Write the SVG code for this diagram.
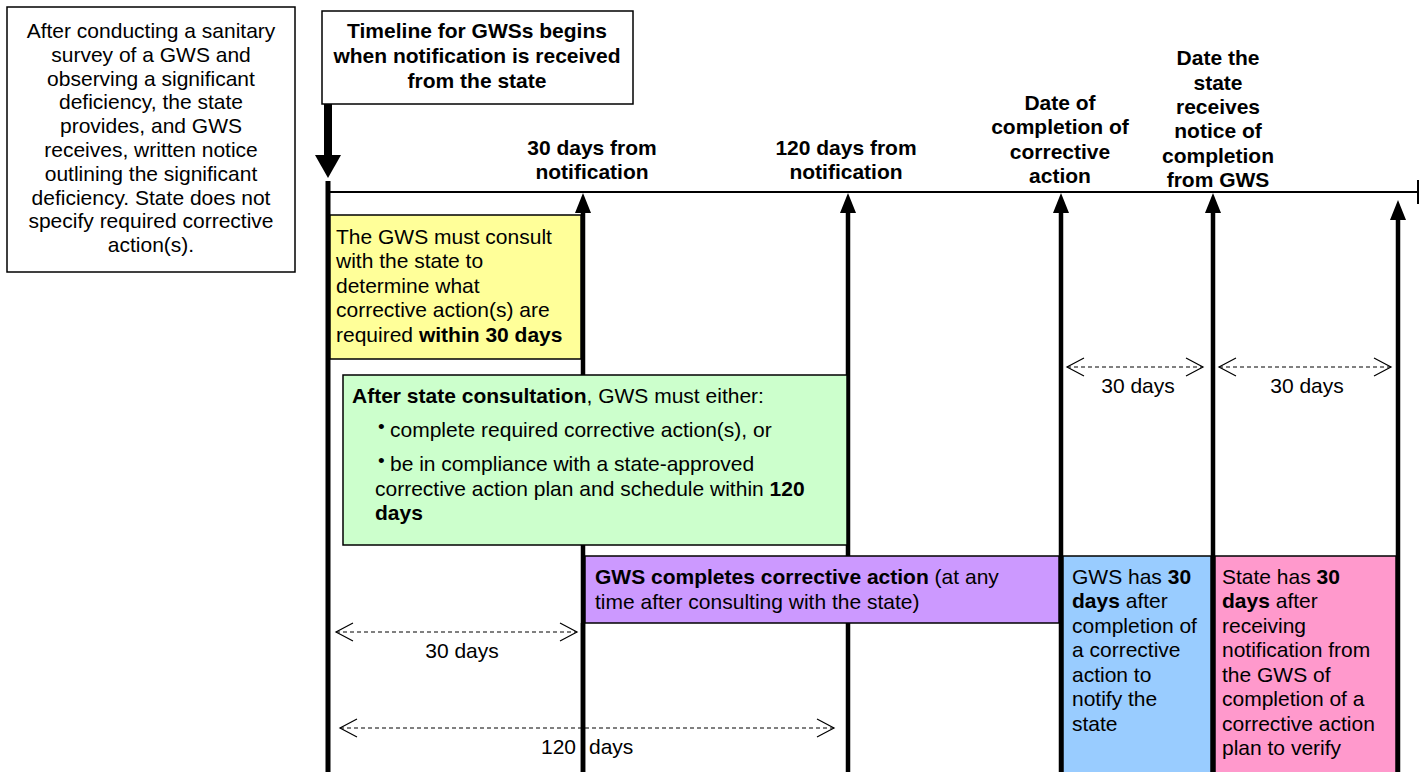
<svg xmlns="http://www.w3.org/2000/svg" width="1424" height="772" viewBox="0 0 1424 772">
<defs>
<style>
text{font-family:"Liberation Sans",Arial,sans-serif;font-size:21px;fill:#000}
.b{font-weight:bold}
.c{text-anchor:middle}
.bul{font-size:19px}
.box{stroke:#000;stroke-width:1.5}
.vl{stroke:#000;stroke-width:4.5;fill:none;marker-end:url(#up)}
.dash{stroke:#000;stroke-width:1;stroke-dasharray:4 3;fill:none;marker-start:url(#chev);marker-end:url(#chev)}
</style>
<marker id="up" viewBox="0 0 20 16" refX="0" refY="8" markerWidth="20" markerHeight="16" markerUnits="userSpaceOnUse" orient="auto">
<path d="M0,0 L20,8 L0,16 z" fill="#000"/>
</marker>
<marker id="chev" viewBox="0 0 20 20" refX="18" refY="10" markerWidth="20" markerHeight="20" markerUnits="userSpaceOnUse" orient="auto-start-reverse">
<path d="M1,1 L18,10 L1,19" fill="none" stroke="#000" stroke-width="1.2" stroke-dasharray="none"/>
</marker>
</defs>
<rect width="1424" height="772" fill="#fff"/>

<g id="connectors">
<line x1="328" y1="192" x2="1418" y2="192" stroke="#000" stroke-width="2"/>
<line x1="1418" y1="180" x2="1418" y2="204" stroke="#000" stroke-width="2"/>
<path d="M328,104 V156" stroke="#000" stroke-width="8"/>
<path d="M315,155 L341,155 L328,178 z" fill="#000"/>
<line x1="328" y1="181" x2="328" y2="772" stroke="#000" stroke-width="5"/>
<path class="dash" d="M336,632 H577"/>
<path class="dash" d="M340,728 H834"/>
<path class="dash" d="M1067,367 H1203"/>
<path class="dash" d="M1219,367 H1391"/>
<path class="vl" d="M583,772 V213"/>
<path class="vl" d="M848,772 V213"/>
<path class="vl" d="M1061,772 V213"/>
<path class="vl" d="M1213,772 V213"/>
<path class="vl" d="M1398,772 V220"/>
</g>

<g id="intro">
<rect class="box" x="7" y="7" width="288" height="265" fill="#fff"/>
<text class="c" x="151" y="38">After conducting a sanitary</text>
<text class="c" x="151" y="62">survey of a GWS and</text>
<text class="c" x="151" y="86">observing a significant</text>
<text class="c" x="151" y="109">deficiency, the state</text>
<text class="c" x="151" y="133">provides, and GWS</text>
<text class="c" x="151" y="157">receives, written notice</text>
<text class="c" x="151" y="181">outlining the significant</text>
<text class="c" x="151" y="205">deficiency. State does not</text>
<text class="c" x="151" y="228">specify required corrective</text>
<text class="c" x="151" y="252">action(s).</text>
</g>

<g id="title">
<rect class="box" x="322" y="11" width="311" height="93" fill="#fff"/>
<text class="c b" x="477" y="38">Timeline for GWSs begins</text>
<text class="c b" x="477" y="63">when notification is received</text>
<text class="c b" x="477" y="88">from the state</text>
</g>

<g id="label-30">
<text class="c b" x="592" y="155">30 days from</text>
<text class="c b" x="592" y="179">notification</text>
</g>
<g id="label-120">
<text class="c b" x="846" y="155">120 days from</text>
<text class="c b" x="846" y="179">notification</text>
</g>
<g id="label-completion">
<text class="c b" x="1060" y="110">Date of</text>
<text class="c b" x="1060" y="134">completion of</text>
<text class="c b" x="1060" y="159">corrective</text>
<text class="c b" x="1060" y="183">action</text>
</g>
<g id="label-notice">
<text class="c b" x="1218" y="65">Date the</text>
<text class="c b" x="1218" y="90">state</text>
<text class="c b" x="1218" y="114">receives</text>
<text class="c b" x="1218" y="138">notice of</text>
<text class="c b" x="1218" y="163">completion</text>
<text class="c b" x="1218" y="187">from GWS</text>
</g>

<g id="consult">
<rect class="box" x="330" y="215" width="251" height="144" fill="#FFFF99"/>
<text x="336" y="244">The GWS must consult</text>
<text x="336" y="268">with the state to</text>
<text x="336" y="293">determine what</text>
<text x="336" y="317">corrective action(s) are</text>
<text x="336" y="342">required <tspan class="b">within 30 days</tspan></text>
</g>

<g id="after-consult">
<rect class="box" x="343" y="375" width="504" height="170" fill="#CCFFCC"/>
<text x="352" y="403"><tspan class="b">After state consultation</tspan>, GWS must either:</text>
<text class="bul" x="378" y="433">•</text>
<text x="390" y="437">complete required corrective action(s), or</text>
<text class="bul" x="378" y="467">•</text>
<text x="390" y="471">be in compliance with a state-approved</text>
<text x="375" y="496">corrective action plan and schedule within <tspan class="b">120</tspan></text>
<text class="b" x="375" y="520">days</text>
</g>

<g id="completes">
<rect class="box" x="585" y="556" width="474" height="67" fill="#CC99FF"/>
<text x="595" y="584"><tspan class="b">GWS completes corrective action</tspan> (at any</text>
<text x="595" y="609">time after consulting with the state)</text>
</g>

<g id="gws-notify">
<rect class="box" x="1063" y="556" width="148" height="220" fill="#99CCFF"/>
<text x="1072" y="584">GWS has <tspan class="b">30</tspan></text>
<text x="1072" y="608"><tspan class="b">days</tspan> after</text>
<text x="1072" y="633">completion of</text>
<text x="1072" y="657">a corrective</text>
<text x="1072" y="682">action to</text>
<text x="1072" y="706">notify the</text>
<text x="1072" y="731">state</text>
</g>

<g id="state-verify">
<rect class="box" x="1215" y="556" width="181" height="220" fill="#FF99CC"/>
<text x="1222" y="584">State has <tspan class="b">30</tspan></text>
<text x="1222" y="608"><tspan class="b">days</tspan> after</text>
<text x="1222" y="633">receiving</text>
<text x="1222" y="657">notification from</text>
<text x="1222" y="682">the GWS of</text>
<text x="1222" y="706">completion of a</text>
<text x="1222" y="731">corrective action</text>
<text x="1222" y="755">plan to verify</text>
</g>

<g id="span-labels">
<text class="c" x="1138" y="393">30 days</text>
<text class="c" x="1307" y="393">30 days</text>
<text class="c" x="462" y="658">30 days</text>
<text y="754"><tspan x="576" text-anchor="end">120</tspan><tspan x="589">days</tspan></text>
</g>
<line x1="583" y1="623" x2="583" y2="772" stroke="#000" stroke-width="4.5"/>
</svg>
